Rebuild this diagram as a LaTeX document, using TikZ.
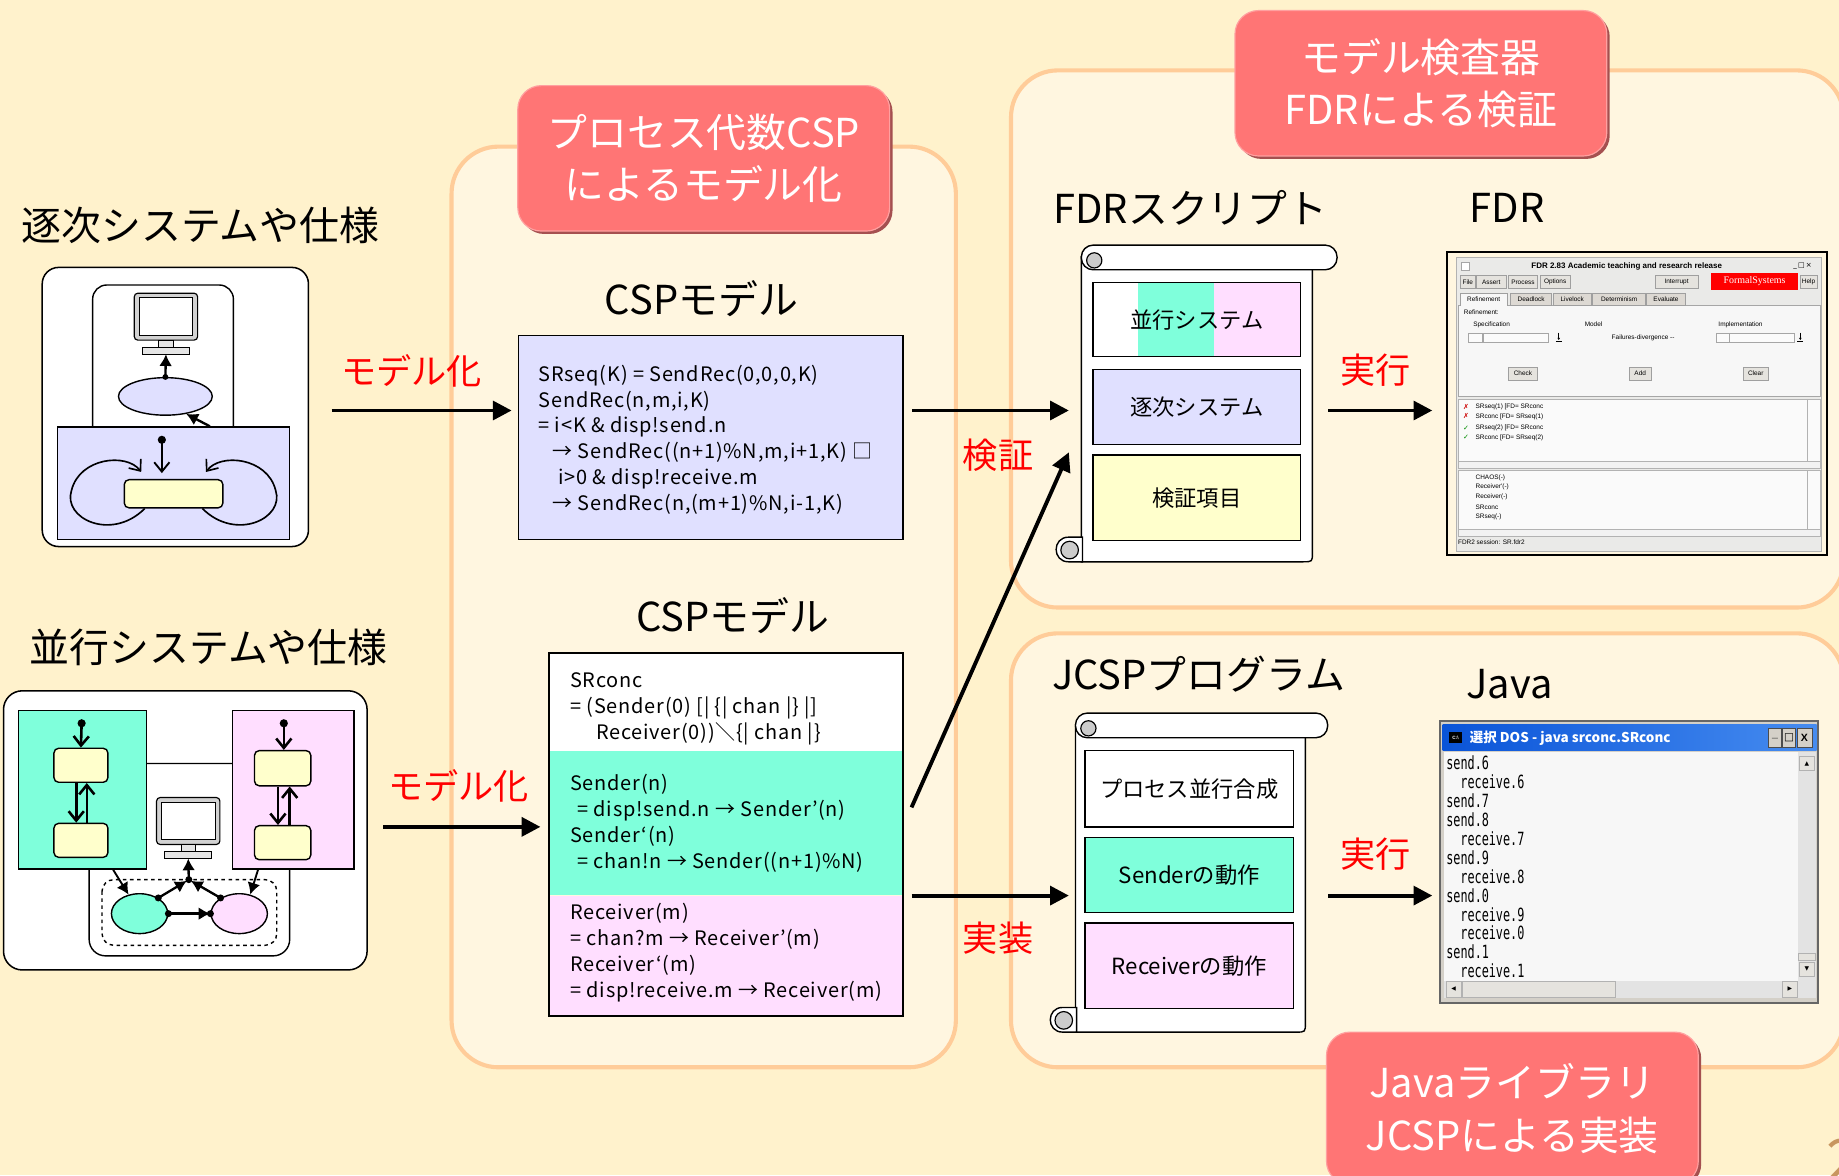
\documentclass[tikz,border=0pt]{standalone}
\usepackage{fontspec}
\setmainfont{Noto Sans CJK JP}
\newfontfamily\fdrfont{Liberation Sans}
\newfontfamily\logofont{Liberation Serif}
\newfontfamily\dosfont[FakeStretch=0.65]{DejaVu Sans Mono}
\newfontfamily\symfont{DejaVu Sans}
\usetikzlibrary{arrows.meta,positioning,shapes.geometric,shadows}

\definecolor{bgcream}{RGB}{255,242,204}
\definecolor{panelfill}{RGB}{255,246,224}
\definecolor{panelline}{RGB}{255,204,153}
\definecolor{callred}{RGB}{255,117,117}
\definecolor{callshade}{RGB}{165,80,80}
\definecolor{calllight}{RGB}{255,160,160}
\definecolor{seqblue}{RGB}{224,224,255}
\definecolor{sendgreen}{RGB}{127,255,219}
\definecolor{recvpink}{RGB}{255,222,255}
\definecolor{stateyellow}{RGB}{255,255,204}
\definecolor{wingray}{RGB}{234,234,232}
\definecolor{winface}{RGB}{212,208,200}
\definecolor{dosblue}{RGB}{10,84,216}
\definecolor{doslight}{RGB}{70,140,240}
\definecolor{pagenum}{RGB}{200,150,95}

% monitor: #1,#2 = centre of the screen, #3 = name of its foot
\newcommand{\pcmonitor}[3]{%
  \draw[line width=1pt, fill=gray!35, rounded corners=3pt] (#1-27,#2-20) rectangle (#1+27,#2+20);
  \draw[line width=.8pt, fill=white] (#1-23,#2-16) rectangle (#1+23,#2+16);
  \draw[line width=.8pt, fill=gray!20] (#1-6,#2+20) rectangle (#1+6,#2+26);
  \draw[line width=.8pt, fill=gray!20] (#1-20,#2+26) rectangle (#1+20,#2+32);
  \coordinate (#3) at (#1,#2+32);
}

% scroll sheet: #1 left, #2 right, #3 end of the top roll, #4 top, #5 bottom
\newcommand{\scrollsheet}[5]{%
  \draw[line width=1.2pt, fill=white] (#1,#4+10) -- (#1,#5) -- (#2-8,#5)
    .. controls (#2,#5) .. (#2,#5-8) -- (#2,#4+10) -- cycle;
  \draw[line width=1.2pt, fill=white] (#1-11,#5) -- (#1+1,#5) -- (#1+1,#5-21) -- (#1-11,#5-21)
    .. controls (#1-25,#5-21) and (#1-25,#5) .. cycle;
  \draw[line width=1pt, fill=gray!40] (#1-10,#5-10) circle (7.5);
  \draw[line width=1.2pt, fill=white, rounded corners=10pt] (#1,#4) rectangle (#3,#4+21);
  \draw[line width=1pt, fill=gray!40] (#1+11,#4+13) circle (6.5);
}

\tikzset{
  panel/.style={draw=panelline, line width=3.5pt, fill=panelfill, rounded corners=40pt},
  callout/.style={fill=callred, draw=calllight, line width=1pt, rounded corners=20pt,
    drop shadow={shadow xshift=2.5pt, shadow yshift=-2.5pt, opacity=1, fill=callshade},
    text=white, align=center, minimum width=317, minimum height=124,
    font=\fontsize{34}{45}\selectfont},
  heading/.style={inner sep=0, font=\fontsize{34}{40}\selectfont},
  tag/.style={inner sep=0, text=red, font=\fontsize{30}{34}\selectfont},
  flow/.style={line width=3.3pt, -{Triangle[length=16pt,width=16pt]}},
  codetext/.style={anchor=north west, inner sep=0, align=left,
    font=\fontsize{17}{22}\selectfont\addfontfeature{LetterSpace=4}},
  item/.style={draw, line width=1.3pt, minimum width=177, font=\fontsize{19}{22}\selectfont},
  thinbox/.style={draw, line width=1.2pt},
  state/.style={draw, line width=1.2pt, fill=stateyellow, rounded corners=4pt},
  vee/.style={line width=2.2pt, -{Straight Barb[length=8pt,width=13pt]}},
  tri/.style={line width=2pt, -{Latex[length=10pt,width=11pt]}},
  fdrlabel/.style={inner sep=0, anchor=west, font=\fdrfont\fontsize{5.5}{6}\selectfont},
  winbtn/.style={draw=gray!75, fill=winface!60, inner sep=0, minimum height=11,
    font=\fdrfont\fontsize{5.5}{6}\selectfont},
  tab/.style={draw=gray!75, fill=winface!80, inner sep=0, minimum height=10,
    font=\fdrfont\fontsize{5.5}{6}\selectfont},
}

\begin{document}
\begin{tikzpicture}[x=1pt,y=-1pt]
  \useasboundingbox (0,0) rectangle (1568,1002);
  \fill[bgcream] (0,0) rectangle (1568,1002);

  % working areas
  \draw[panel] (385,125) rectangle (815,910);
  \draw[panel] (862,60) rectangle (1572,518);
  \draw[panel] (862,540) rectangle (1572,910);

  %% sequential system
  \node[heading] (seqhead) at (171,192) {逐次システムや仕様};
  \node[draw, fill=white, line width=1.3pt, rounded corners=14pt,
    minimum width=227, minimum height=238] (seqsys) at (149.5,347) {};
  \draw[thinbox, fill=white, rounded corners=12pt] (79,243) rectangle (199,380);
  \pcmonitor{141.5}{270}{seqmon}
  \node[ellipse, thinbox, fill=seqblue, minimum width=80, minimum height=32, inner sep=0] (seqstate) at (141,338) {};
  \node[draw, line width=1pt, fill=seqblue, minimum width=198, minimum height=96] (seqproc) at (148,412) {};
  \node[state, minimum width=84, minimum height=24] (seqstep) at (148,421) {};
  \coordinate (seqinit) at (138,375);
  \fill (seqinit) circle (3.5);
  \draw[vee, line width=1.6pt, shorten >=5pt] (seqinit) -- (seqinit |- seqstep.north);
  \fill (seqstate.north) circle (2.5);
  \draw[tri] (seqstate.north) -- (seqmon);
  \draw[tri] ([xshift=31pt]seqproc.north) -- (seqstate.-40);
  \draw[vee, line width=1.4pt] ([xshift=18pt]seqstep.south west)
    .. controls (95,462) and (53,442) .. (61,418)
    .. controls (68,390) and (108,386) .. ([xshift=15pt,yshift=6pt]seqstep.north west);
  \draw[vee, line width=1.4pt] ([xshift=-18pt]seqstep.south east)
    .. controls (201,462) and (243,442) .. (235,418)
    .. controls (228,390) and (188,386) .. ([xshift=-15pt,yshift=6pt]seqstep.north east);

  %% concurrent system
  \node[heading] (parhead) at (178,552) {並行システムや仕様};
  \node[draw, fill=white, line width=1.3pt, rounded corners=16pt,
    minimum width=310, minimum height=238] (parsys) at (158,708) {};
  \draw[thinbox, fill=white, rounded corners=14pt] (76,651) rectangle (247,815);
  \node[thinbox, fill=sendgreen, minimum width=109, minimum height=135] (sendproc) at (70.5,673.5) {};
  \node[thinbox, fill=recvpink, minimum width=104, minimum height=135] (recvproc) at (250,673.5) {};
  \draw[dashed, line width=1.2pt, rounded corners=10pt] (87,750) rectangle (236,806);
  \node[ellipse, thinbox, fill=sendgreen, minimum width=48, minimum height=34, inner sep=0] (sendst) at (119,779) {};
  \node[ellipse, thinbox, fill=recvpink, minimum width=48, minimum height=34, inner sep=0] (recvst) at (204,779) {};
  \pcmonitor{160.5}{700}{parmon}
  \coordinate (join) at (161,750);
  \fill (join) circle (3);
  \draw[tri] (join) -- (parmon);
  \fill (sendst.40) circle (3);
  \fill (recvst.140) circle (3);
  \draw[tri, shorten >=2pt] (sendst.40) -- (join);
  \draw[tri, shorten >=2pt] (recvst.140) -- (join);
  \fill (sendst.east) circle (3);
  \fill (recvst.west) circle (3);
  \draw[tri] (sendst.east) -- (recvst.west);
  \draw[tri, line width=1.6pt] ([xshift=26pt]sendproc.south) -- (sendst.120);
  \draw[tri, line width=1.6pt] ([xshift=-30pt]recvproc.south) -- (recvst.60);
  % sender states
  \node[state, minimum width=46, minimum height=29] (sendA) at (69,652.5) {};
  \node[state, minimum width=46, minimum height=29] (sendB) at (69,716.5) {};
  \coordinate (sendinit) at (69.6,616.7);
  \fill (sendinit) circle (3.5);
  \draw[vee] (sendinit) -- (sendA.north);
  \draw[vee] ([xshift=-4pt]sendA.south) -- ([xshift=-4pt]sendB.north);
  \draw[vee] ([xshift=5pt]sendB.north) -- ([xshift=5pt]sendA.south);
  % receiver states
  \node[state, minimum width=48, minimum height=30] (recvA) at (241,655) {};
  \node[state, minimum width=48, minimum height=29] (recvB) at (241,718.5) {};
  \coordinate (recvinit) at (242,616.7);
  \fill (recvinit) circle (3.5);
  \draw[vee] (recvinit) -- (recvinit |- recvA.north);
  \draw[vee] ([xshift=-4pt]recvA.south) -- ([xshift=-4pt]recvB.north);
  \draw[vee] ([xshift=6pt]recvB.north) -- ([xshift=6pt]recvA.south);

  %% CSP models
  \node[heading] (seqmodelhead) at (598,255) {CSPモデル};
  \node[draw, line width=1.5pt, fill=seqblue, minimum width=328, minimum height=174] (seqmodel) at (606,373) {};
  \node[codetext] (seqcode) at (459,311) {SRseq(K) = SendRec(0,0,0,K)\\
    SendRec(n,m,i,K)\\
    = i<K \& disp!send.n\\
    \hspace*{12pt}→ SendRec((n+1)\%N,m,i+1,K) □\\
    \hspace*{17pt}i>0 \& disp!receive.m\\
    \hspace*{12pt}→ SendRec(n,(m+1)\%N,i-1,K)};

  \node[heading] (parmodelhead) at (625,525) {CSPモデル};
  \node[fill=white, minimum width=302, minimum height=83, inner sep=0] (concpart) at (619,598.5) {};
  \node[fill=sendgreen, minimum width=302, minimum height=123, inner sep=0, below=0pt of concpart] (sendpart) {};
  \node[fill=recvpink, minimum width=302, minimum height=102, inner sep=0, below=0pt of sendpart] (recvpart) {};
  \draw[line width=1.5pt] (concpart.north west) rectangle (recvpart.south east);
  \node[codetext] (conccode) at (486,573.5) {SRconc\\
    = (Sender(0) [| \{| chan |\} |]\\
    \hspace*{22pt}Receiver(0))＼\{| chan |\}};
  \node[codetext] (sendcode) at (486,660) {Sender(n)\\
    \hspace*{6pt}= disp!send.n → Sender'(n)\\
    Sender‘(n)\\
    \hspace*{6pt}= chan!n → Sender((n+1)\%N)};
  \node[codetext] (recvcode) at (486,770) {Receiver(m)\\
    = chan?m → Receiver'(m)\\
    Receiver‘(m)\\
    = disp!receive.m → Receiver(m)};

  %% FDR script
  \node[heading] (scripthead) at (1015,177) {FDRスクリプト};
  \scrollsheet{922}{1119}{1140}{209}{479}
  \fill[white] (932,241) rectangle (970,304);
  \fill[sendgreen] (970,241) rectangle (1035,304);
  \fill[recvpink] (1035,241) rectangle (1109,304);
  \node[item, minimum height=63] (fdrpar) at (1020.5,272.5) {並行システム};
  \node[item, fill=seqblue, minimum height=64] (fdrseq) at (1020.5,347) {逐次システム};
  \node[item, fill=stateyellow, minimum height=73] (fdrcheck) at (1020.5,424.5) {検証項目};

  %% JCSP program
  \node[heading] (jcsphead) at (1022,575) {JCSPプログラム};
  \scrollsheet{917}{1113}{1132}{608}{880}
  \node[item, fill=white, minimum width=178, minimum height=65] (jcomp) at (1014,672.5) {プロセス並行合成};
  \node[item, fill=sendgreen, minimum width=178, minimum height=64] (jsend) at (1014,746) {Senderの動作};
  \node[item, fill=recvpink, minimum width=178, minimum height=73] (jrecv) at (1014,823.5) {Receiverの動作};

  %% FDR window
  \node[heading] (fdrhead) at (1285,177) {FDR};
  \node[draw, line width=1.5pt, minimum width=324, minimum height=258] (fdrwin) at (1396,344) {};
  \draw[gray!60, fill=wingray] (1242,219) rectangle (1553,470);
  \draw[gray!70, fill=white] (1246,224) rectangle (1253,230);
  \node[inner sep=0, font=\fdrfont\bfseries\fontsize{6.8}{7}\selectfont] (fdrtitle) at (1387,227.5)
    {FDR 2.83 Academic teaching and research release};
  \node[inner sep=0, font=\symfont\fontsize{6}{6}\selectfont] (fdrctl) at (1537,227) {\_\,□\,×};
  \foreach \x/\w/\t in {1251.5/13/File, 1271.5/25/Assert, 1298.5/25/Process,
                        1326/26/Options, 1429.5/37/Interrupt, 1542/14/Help}
    \node[winbtn, minimum width=\w] (menu\t) at (\x,240.5) {\t};
  \node[fill=red, text=white, inner sep=0, minimum width=74, minimum height=14,
    font=\logofont\fontsize{8.5}{9}\selectfont] (fdrlogo) at (1496,240) {FormalSystems};
  \draw[gray!70, fill=gray!6] (1243,260) rectangle (1552,338);
  \foreach \x/\w/\t in {1305.5/35/Deadlock, 1340.5/33/Livelock, 1380.5/45/Determinism, 1420.5/33/Evaluate}
    \node[tab, minimum width=\w] (tab\t) at (\x,255) {\t};
  \node[tab, fill=gray!6, minimum width=40] (tabRefinement) at (1265,255) {Refinement};
  \draw[gray!6, line width=1pt] (1245.5,260) -- (1284.5,260);
  \node[fdrlabel] (reflbl) at (1248,266) {Refinement:};
  \node[fdrlabel] (speclbl) at (1256,277) {Specification};
  \node[fdrlabel] (modellbl) at (1351,276) {Model};
  \node[fdrlabel] (impllbl) at (1465,277) {Implementation};
  \node[fdrlabel] (fdlbl) at (1374,288) {Failures-divergence --};
  \foreach \a/\b in {1252/1264, 1265/1320, 1463/1474, 1474/1530}
    \draw[gray!70, fill=gray!3] (\a,284) rectangle (\b,292);
  \foreach \x in {1329,1535} {
    \draw[line width=.5pt, -{Latex[length=2pt,width=2.5pt]}] (\x,283.5) -- (\x,290);
    \draw[line width=.5pt] (\x-2.5,291) -- (\x+2.5,291);
  }
  \foreach \x/\w/\t in {1298.5/25/Check, 1398.5/19/Add, 1497/22/Clear}
    \node[winbtn, minimum width=\w] (btn\t) at (\x,318.5) {\t};
  % result list
  \draw[gray!60, fill=gray!4] (1243,340) rectangle (1552,393);
  \draw[gray!60] (1541,340) -- (1541,393);
  \draw[gray!60, fill=gray!10] (1243,393) rectangle (1552,399);
  \foreach \y/\t in {347/SRseq(1) [FD= SRconc, 355/SRconc [FD= SRseq(1)} {
    \node[inner sep=0, text=red!80!black, font=\symfont\fontsize{6}{6}\selectfont] (bad\y) at (1250,\y) {✗};
    \node[fdrlabel] (res\y) at (1258,\y) {\t};
  }
  \foreach \y/\t in {365/SRseq(2) [FD= SRconc, 373/SRconc [FD= SRseq(2)} {
    \node[inner sep=0, text=green!55!black, font=\symfont\fontsize{6}{6}\selectfont] (good\y) at (1250,\y) {✓};
    \node[fdrlabel] (res\y) at (1258,\y) {\t};
  }
  % process list
  \draw[gray!60, fill=gray!4] (1243,401) rectangle (1552,451);
  \draw[gray!60] (1541,401) -- (1541,451);
  \draw[gray!60, fill=gray!10] (1243,451) rectangle (1552,457);
  \foreach \y/\t in {407/CHAOS(-), 415.5/Receiver'(-), 424/Receiver(-), 432.5/SRconc, 441/SRseq(-)}
    \node[fdrlabel] (proc\y) at (1258,\y) {\t};
  \node[fdrlabel] (fdrstatus) at (1243,462) {FDR2 session: SR.fdr2};

  %% Java console
  \node[heading] (javahead) at (1287,583) {Java};
  \node[draw=gray!80!black, line width=1.5pt, fill=winface, minimum width=322, minimum height=240] (doswin) at (1389,735) {};
  \shade[left color=dosblue, right color=doslight] (1230,618) rectangle (1549,640);
  \node[fill=black, text=white, inner sep=0, minimum width=11, minimum height=9,
    font=\fdrfont\bfseries\fontsize{4}{4}\selectfont] (dosicon) at (1241,629) {C:\textbackslash};
  \node[anchor=west, inner sep=0, text=white, font=\bfseries\fontsize{11.5}{12}\selectfont] (dostitle) at (1253,629)
    {選択 DOS - java srconc.SRconc};
  \node[draw=gray!60!black, fill=winface, minimum width=11, minimum height=16, inner sep=0,
    font=\fdrfont\bfseries\fontsize{9}{9}\selectfont] (dosmin) at (1513.5,629) {\_};
  \node[draw=gray!60!black, fill=winface, minimum width=11, minimum height=16, inner sep=0,
    font=\symfont\fontsize{9}{9}\selectfont] (dosmax) at (1525.5,629) {□};
  \node[draw=gray!60!black, fill=winface, minimum width=13, minimum height=16, inner sep=0,
    font=\fdrfont\bfseries\fontsize{9}{9}\selectfont] (dosclose) at (1538.5,629) {X};
  \fill[gray!6] (1231,641) rectangle (1533,836);
  \fill[gray!22] (1533,641) rectangle (1548,836);
  \fill[gray!22] (1231,836) rectangle (1548,851);
  \node[draw=gray!60, fill=winface!60, minimum width=13, minimum height=12, inner sep=0,
    font=\symfont\fontsize{5}{5}\selectfont] (dosup) at (1540.5,651) {▲};
  \node[draw=gray!60, fill=winface!60, minimum width=13, minimum height=12, inner sep=0,
    font=\symfont\fontsize{5}{5}\selectfont] (dosdown) at (1540.5,826.5) {▼};
  \draw[gray!60, fill=winface!60] (1533.5,813) rectangle (1547.5,819);
  \node[draw=gray!60, fill=winface!60, minimum width=13, minimum height=13, inner sep=0,
    font=\symfont\fontsize{5}{5}\selectfont] (dosleft) at (1239.5,843.5) {◀};
  \draw[gray!60, fill=winface!60] (1247,837) rectangle (1377,850);
  \node[draw=gray!60, fill=winface!60, minimum width=13, minimum height=13, inner sep=0,
    font=\symfont\fontsize{5}{5}\selectfont] (dosright) at (1526,843.5) {▶};
  \node[anchor=north west, inner sep=0, align=left, font=\dosfont\fontsize{15.5}{16.1}\selectfont] (doslog) at (1233,644.5)
    {send.6\\\hspace*{12pt}receive.6\\send.7\\send.8\\\hspace*{12pt}receive.7\\send.9\\\hspace*{12pt}receive.8\\
     send.0\\\hspace*{12pt}receive.9\\\hspace*{12pt}receive.0\\send.1\\\hspace*{12pt}receive.1};

  %% connectors
  \coordinate (rowseq) at (0,350);
  \coordinate (rowpar) at (0,705);
  \draw[flow, shorten <=19pt, shorten >=5pt] (seqsys.east |- rowseq) -- (seqmodel.west |- rowseq);
  \draw[flow, shorten <=13pt, shorten >=7pt] (parsys.east |- rowpar) -- (concpart.west |- rowpar);
  \draw[flow, shorten <=7pt, shorten >=20pt] (seqmodel.east |- rowseq) -- (fdrpar.west |- rowseq);
  \draw[flow] ([xshift=7pt,yshift=13.5pt]sendpart.east) -- ([xshift=-20pt,yshift=-6pt]fdrseq.south west);
  \draw[flow, shorten <=7pt, shorten >=13pt] (sendpart.south east) -- (jsend.west |- sendpart.south east);
  \draw[flow, shorten <=23pt, shorten >=12pt] (fdrpar.east |- rowseq) -- (fdrwin.west |- rowseq);
  \draw[flow, shorten <=29pt, shorten >=6pt] (jsend.east |- sendpart.south east) -- (doswin.west |- sendpart.south east);

  \node[tag] (model1) at (351,316) {モデル化};
  \node[tag] (model2) at (391,670) {モデル化};
  \node[tag] (verify) at (851,388) {検証};
  \node[tag] (implement) at (851,800) {実装};
  \node[tag] (runfdr) at (1173,316) {実行};
  \node[tag] (runjava) at (1173,728) {実行};

  %% titles of the three steps
  \node[callout] (cspcall) at (600,135) {プロセス代数CSP\\によるモデル化};
  \node[callout] (fdrcall) at (1211.5,71) {モデル検査器\\FDRによる検証};
  \node[callout, minimum height=130] (jcspcall) at (1289.5,945) {Javaライブラリ\\JCSPによる実装};

  \node[text=pagenum, inner sep=0, font=\fontsize{50}{50}\selectfont] (pageno) at (1571,989) {2};
\end{tikzpicture}
\end{document}
